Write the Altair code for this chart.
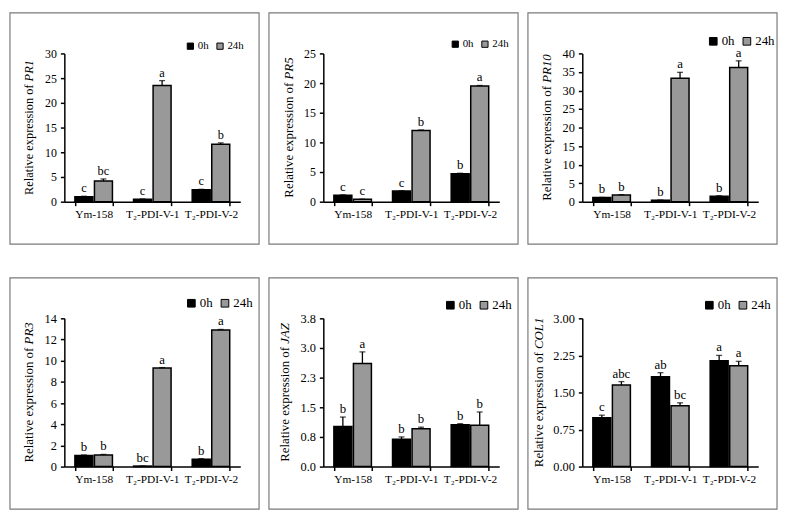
import altair as alt
import pandas as pd

FONT = "Liberation Serif"

lines = ["Ym-158", "T\u2082-PDI-V-1", "T\u2082-PDI-V-2"]
times = ["0h", "24h"]
genes = ["PR1", "PR5", "PR10", "PR3", "JAZ", "COL1"]

# PR1
pr1_0h = [1.0, 0.5, 2.4]
pr1_24h = [4.2, 23.5, 11.6]
pr1_err_0h = [0.1, 0.05, 0.1]
pr1_err_24h = [0.4, 1.0, 0.3]
pr1_let_0h = ["c", "c", "c"]
pr1_let_24h = ["bc", "a", "b"]
pr1_ticks = [0, 5, 10, 15, 20, 25, 30]

# PR5
pr5_0h = [1.1, 1.8, 4.7]
pr5_24h = [0.4, 12.0, 19.5]
pr5_err_0h = [0.05, 0.05, 0.1]
pr5_err_24h = [0.03, 0.1, 0.1]
pr5_let_0h = ["c", "c", "b"]
pr5_let_24h = ["c", "b", "a"]
pr5_ticks = [0, 5, 10, 15, 20, 25]

# PR10
pr10_0h = [1.1, 0.4, 1.5]
pr10_24h = [1.8, 33.3, 36.2]
pr10_err_0h = [0.05, 0.05, 0.1]
pr10_err_24h = [0.1, 1.6, 1.8]
pr10_let_0h = ["b", "b", "b"]
pr10_let_24h = ["b", "a", "a"]
pr10_ticks = [0, 5, 10, 15, 20, 25, 30, 35, 40]

# PR3
pr3_0h = [1.05, 0.05, 0.7]
pr3_24h = [1.1, 9.3, 12.9]
pr3_err_0h = [0.05, 0.01, 0.05]
pr3_err_24h = [0.05, 0.05, 0.05]
pr3_let_0h = ["b", "bc", "b"]
pr3_let_24h = ["b", "a", "a"]
pr3_ticks = [0, 2, 4, 6, 8, 10, 12, 14]

# JAZ
jaz_0h = [1.03, 0.70, 1.07]
jaz_24h = [2.64, 0.97, 1.06]
jaz_err_0h = [0.24, 0.06, 0.03]
jaz_err_24h = [0.30, 0.04, 0.34]
jaz_let_0h = ["b", "b", "b"]
jaz_let_24h = ["a", "b", "b"]
jaz_ticks = [0, 0.76, 1.52, 2.28, 3.04, 3.8]

# COL1
col1_0h = [0.99, 1.82, 2.14]
col1_24h = [1.65, 1.23, 2.04]
col1_err_0h = [0.05, 0.08, 0.11]
col1_err_24h = [0.07, 0.06, 0.09]
col1_let_0h = ["c", "ab", "a"]
col1_let_24h = ["abc", "bc", "a"]
col1_ticks = [0, 0.75, 1.5, 2.25, 3.0]

PW, PH = 178, 150          # plot area
BOX_L, BOX_R, BOX_T, BOX_B = 55, 19, 41, 43

# Times-like advance widths (per 1000 em) for the split y title
REG_W = 8943      # "Relative expression of"
ITAL_W = {"PR1": 1722, "PR5": 1722, "PR10": 2222, "PR3": 1722, "JAZ": 1611, "COL1": 2445}


def panel(gene, v0, v1, e0, e1, l0, l1, ticks, fmt, tfs, yfs, xfs, title_x, leg_x, leg_y, leg_fs, sym):
    df = pd.DataFrame({
        "line": lines * 2,
        "time": ["0h"] * 3 + ["24h"] * 3,
        "value": v0 + v1,
        "err": e0 + e1,
        "letter": l0 + l1,
    })
    df["top"] = df["value"] + df["err"]

    xaxis = alt.Axis(title=None, labelAngle=0, labelFont=FONT, labelFontSize=xfs, labelColor="black",
                     labelPadding=3, tickBand="extent", tickSize=4, tickColor="black", tickWidth=1.5,
                     domainColor="black", domainWidth=1.5, grid=False, labelOverlap=False)
    yaxis = alt.Axis(title=None, values=ticks, format=fmt, labelFont=FONT, labelFontSize=yfs,
                     labelColor="black", labelPadding=4, tickSize=4, tickColor="black", tickWidth=1.5,
                     domainColor="black", domainWidth=1.5, grid=False)
    yscale = alt.Scale(domain=[0, ticks[-1]], nice=False, zero=True)

    base = alt.Chart(df).encode(
        x=alt.X("line:N", sort=lines, scale=alt.Scale(paddingInner=0.36, paddingOuter=0.18), axis=xaxis),
        xOffset=alt.XOffset("time:N", sort=times, scale=alt.Scale(paddingInner=0.08)),
    )
    bars = base.mark_bar(stroke="black", strokeWidth=1.5).encode(
        y=alt.Y("value:Q", scale=yscale, axis=yaxis),
        color=alt.Color("time:N", sort=times,
                        scale=alt.Scale(domain=times, range=["#000000", "#999999"]),
                        legend=alt.Legend(title=None, orient="none", legendX=leg_x, legendY=leg_y,
                                          direction="horizontal", symbolType="square", symbolSize=sym,
                                          symbolStrokeColor="black", symbolStrokeWidth=1,
                                          labelFont=FONT, labelFontSize=leg_fs, labelColor="black",
                                          labelOffset=2, columnPadding=6, padding=0)),
    )
    rules = base.mark_rule(color="black", strokeWidth=1.3).encode(
        y=alt.Y("value:Q", scale=yscale, axis=yaxis), y2="top:Q")
    caps = base.mark_tick(color="black", thickness=1.3, size=6).encode(
        y=alt.Y("top:Q", scale=yscale, axis=yaxis))
    letters = base.mark_text(font=FONT, fontSize=tfs, baseline="alphabetic", dy=-4, color="black").encode(
        y=alt.Y("top:Q", scale=yscale, axis=yaxis), text="letter:N")

    # y title: regular part + italic gene name
    total = tfs * (REG_W + 250 + ITAL_W[gene]) / 1000.0
    y_bottom = PH / 2 + total / 2
    split = y_bottom - tfs * REG_W / 1000.0
    tdf = pd.DataFrame({"a": ["Relative expression of"], "b": [gene]})
    t1 = alt.Chart(tdf).mark_text(angle=270, align="right", baseline="middle", font=FONT,
                                  fontSize=tfs, color="black").encode(
        x=alt.value(title_x), y=alt.value(split), text="a:N")
    t2 = alt.Chart(tdf).mark_text(angle=270, align="left", baseline="middle", font=FONT,
                                  fontSize=tfs, fontStyle="italic", color="black").encode(
        x=alt.value(title_x), y=alt.value(split - tfs * 0.25), text="b:N")

    box = alt.Chart(pd.DataFrame({"k": [0]})).mark_rect(fill="white", fillOpacity=0, stroke="#7a7a7a",
                                                        strokeWidth=1.2).encode(
        x=alt.value(-BOX_L), x2=alt.value(PW + BOX_R), y=alt.value(-BOX_T), y2=alt.value(PH + BOX_B))

    return alt.layer(box, bars, rules, caps, letters, t1, t2).properties(width=PW, height=PH)


p1 = panel("PR1", pr1_0h, pr1_24h, pr1_err_0h, pr1_err_24h, pr1_let_0h, pr1_let_24h, pr1_ticks, "d",
           12.5, 12, 11.5, -36, 122, -13, 11, 40)
p2 = panel("PR5", pr5_0h, pr5_24h, pr5_err_0h, pr5_err_24h, pr5_let_0h, pr5_let_24h, pr5_ticks, "d",
           13, 12, 11.5, -35, 128, -15, 11, 40)
p3 = panel("PR10", pr10_0h, pr10_24h, pr10_err_0h, pr10_err_24h, pr10_let_0h, pr10_let_24h, pr10_ticks, "d",
           13, 12.5, 11.5, -36, 126, -19, 13, 60)
p4 = panel("PR3", pr3_0h, pr3_24h, pr3_err_0h, pr3_err_24h, pr3_let_0h, pr3_let_24h, pr3_ticks, "d",
           13, 12.5, 11.5, -36, 122, -22, 13, 60)
p5 = panel("JAZ", jaz_0h, jaz_24h, jaz_err_0h, jaz_err_24h, jaz_let_0h, jaz_let_24h, jaz_ticks, ".1f",
           13, 12.5, 11.5, -39, 122, -20, 13, 60)
p6 = panel("COL1", col1_0h, col1_24h, col1_err_0h, col1_err_24h, col1_let_0h, col1_let_24h, col1_ticks, ".2f",
           13, 12.5, 11.5, -44, 122, -20, 13, 60)

top = alt.hconcat(p1, p2, p3, spacing=6).resolve_scale(color="independent").resolve_legend(color="independent")
bottom = alt.hconcat(p4, p5, p6, spacing=6).resolve_scale(color="independent").resolve_legend(color="independent")

chart = alt.vconcat(top, bottom, spacing=30).resolve_scale(color="independent").resolve_legend(
    color="independent").properties(padding=0).configure(font=FONT).configure_view(stroke="transparent")

chart.save("out.html", embed_options={"renderer": "svg", "actions": False})
